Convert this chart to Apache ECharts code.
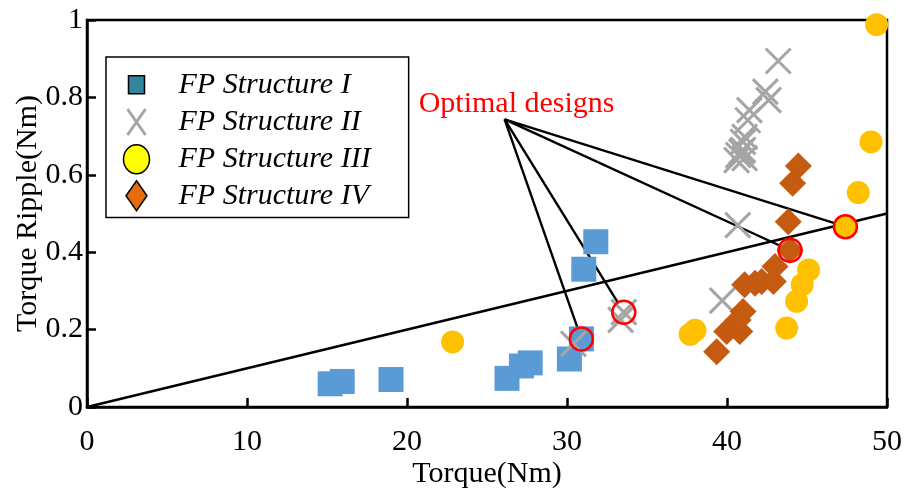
<!DOCTYPE html>
<html>
<head>
<meta charset="utf-8">
<script src="https://cdn.jsdelivr.net/npm/echarts@6/dist/echarts.min.js"></script>
<style>
  html, body { margin: 0; padding: 0; background: #ffffff; }
  #chart { width: 910px; height: 496px; }
</style>
</head>
<body>
<div id="chart"></div>
<script>
// Design points: [torque (Nm), torque ripple (Nm)]
const structureI = [
  [15.2, 0.060], [15.95, 0.066], [19.0, 0.071], [26.25, 0.074], [27.15, 0.106],
  [27.7, 0.114], [30.15, 0.124], [30.9, 0.176], [31.05, 0.356], [31.8, 0.427]
];
const structureII = [
  [30.4, 0.163], [33.55, 0.245], [33.35, 0.225], [39.7, 0.275], [40.67, 0.470],
  [40.6, 0.638], [40.7, 0.651], [40.9, 0.660], [41.1, 0.643], [41.0, 0.664],
  [41.0, 0.685], [41.1, 0.698], [41.3, 0.741], [41.4, 0.767], [42.4, 0.815],
  [42.6, 0.793], [43.2, 0.894]
];
const structureIII = [
  [22.85, 0.168], [37.7, 0.188], [38.0, 0.198], [43.73, 0.204], [44.35, 0.273],
  [44.7, 0.316], [45.1, 0.354], [47.4, 0.466], [48.2, 0.554], [49.0, 0.685],
  [49.35, 0.988]
];
const structureIV = [
  [39.35, 0.143], [39.98, 0.195], [40.8, 0.195], [40.7, 0.225], [41.0, 0.247],
  [41.1, 0.316], [41.75, 0.320], [42.17, 0.324], [42.9, 0.324], [43.0, 0.363],
  [43.94, 0.405], [43.83, 0.479], [44.1, 0.578], [44.46, 0.623]
];

// One chosen design per structure
const optimalDesigns = [structureI[7], structureII[1], structureIV[10], structureIII[7]];

// Ripple/torque ratio reference line y = 0.01 x
const ratioLine = [[0, 0], [50, 0.5]];

// Callout hub and its label
const calloutHub = [26.1, 0.743];
const calloutText = 'Optimal designs';

const seriesNames = ['FP Structure I', 'FP Structure II', 'FP Structure III', 'FP Structure IV'];

const xMin = 0, xMax = 50, xStep = 10;
const yMin = 0, yMax = 1, yStep = 0.2;

const FONT = "'Liberation Serif', 'Times New Roman', serif";

// Legend icons, drawn inside a 56 x 32 box (leading moves fix the box extent)
const BOX = 'M0,0M56,32';
const legendIcons = [
  { icon: 'path://' + BOX + 'M11,7L27,7L27,25L11,25Z',
    itemStyle: { color: '#31859C', borderColor: '#000', borderWidth: 1.5, opacity: 1 } },
  { icon: 'path://' + BOX + 'M10,3L28,29M28,3L10,29',
    itemStyle: { color: 'transparent', borderColor: '#A5A5A5', borderWidth: 3, opacity: 1 } },
  { icon: 'path://' + BOX + 'M6,16A13,14.5 0 1,1 32,16A13,14.5 0 1,1 6,16Z',
    itemStyle: { color: '#FFFF00', borderColor: '#000', borderWidth: 1.5, opacity: 1 } },
  { icon: 'path://' + BOX + 'M19,1L29.5,16L19,31L8.5,16Z',
    itemStyle: { color: '#E46C0A', borderColor: '#000', borderWidth: 1.5, opacity: 1 } }
];

const chart = echarts.init(document.getElementById('chart'), null, { renderer: 'canvas' });

const option = {
  animation: false,
  backgroundColor: '#ffffff',
  grid: {
    left: 87, right: 23, top: 20, bottom: 89,
    show: true, borderColor: '#000', borderWidth: 2.5
  },
  legend: {
    orient: 'vertical',
    left: 106, top: 57,
    padding: [11, 38, 5, 10],
    itemWidth: 56, itemHeight: 32, itemGap: 3,
    borderColor: '#000', borderWidth: 1.5,
    backgroundColor: '#ffffff',
    selectedMode: false,
    textStyle: { fontFamily: FONT, fontStyle: 'italic', fontSize: 30, color: '#000' },
    data: seriesNames.map((name, i) => Object.assign({ name }, legendIcons[i]))
  },
  xAxis: {
    type: 'value', min: xMin, max: xMax, interval: xStep,
    name: 'Torque(Nm)', nameLocation: 'middle', nameGap: 52,
    nameMoveOverlap: false,
    nameTextStyle: { fontFamily: FONT, fontSize: 30, color: '#000' },
    axisLine: { show: true, lineStyle: { color: '#000', width: 2.5 } },
    axisTick: { show: true, inside: true, length: 9, lineStyle: { color: '#000', width: 2.5 } },
    axisLabel: { fontFamily: FONT, fontSize: 30, color: '#000', margin: 20 },
    splitLine: { show: false }
  },
  yAxis: {
    type: 'value', min: yMin, max: yMax, interval: yStep,
    name: 'Torque Ripple(Nm)', nameLocation: 'middle', nameGap: 44,
    nameMoveOverlap: false,
    nameTextStyle: { fontFamily: FONT, fontSize: 30, color: '#000' },
    axisLine: { show: true, lineStyle: { color: '#000', width: 2.5 } },
    axisTick: { show: true, inside: true, length: 9, lineStyle: { color: '#000', width: 2.5 } },
    axisLabel: { fontFamily: FONT, fontSize: 30, color: '#000', margin: 4 },
    splitLine: { show: false }
  },
  series: [
    {
      name: 'ratio', type: 'line', data: ratioLine, z: 1,
      symbol: 'none', silent: true,
      lineStyle: { color: '#000', width: 2.5 }
    },
    {
      name: 'callout', type: 'custom', coordinateSystem: 'cartesian2d',
      data: optimalDesigns, z: 1, silent: true,
      encode: { x: 0, y: 1 },
      renderItem(params, api) {
        const hub = api.coord(calloutHub);
        const p = api.coord([api.value(0), api.value(1)]);
        const dx = p[0] - hub[0], dy = p[1] - hub[1];
        const len = Math.hypot(dx, dy);
        const r = 11.5;
        return {
          type: 'line',
          shape: { x1: hub[0], y1: hub[1], x2: p[0] - dx / len * r, y2: p[1] - dy / len * r },
          style: { stroke: '#000', lineWidth: 2.4 }
        };
      }
    },
    {
      name: seriesNames[0], type: 'scatter', data: structureI, z: 3,
      symbol: 'rect', symbolSize: 25,
      itemStyle: { color: '#5B9BD5', opacity: 1 }
    },
    {
      name: seriesNames[1], type: 'scatter', data: structureII, z: 4,
      symbol: 'path://M0,0L10,10M10,0L0,10', symbolSize: 25,
      itemStyle: { color: 'transparent', borderColor: '#A5A5A5', borderWidth: 3, opacity: 1 }
    },
    {
      name: seriesNames[2], type: 'scatter', data: structureIII, z: 5,
      symbol: 'circle', symbolSize: 23,
      itemStyle: { color: '#FFC000', opacity: 1 }
    },
    {
      name: seriesNames[3], type: 'scatter', data: structureIV, z: 6,
      symbol: 'diamond', symbolSize: 27,
      itemStyle: { color: '#C55A11', opacity: 1 }
    },
    {
      name: 'optimal', type: 'scatter', data: optimalDesigns, z: 7,
      symbol: 'circle', symbolSize: 23, silent: true,
      itemStyle: { color: 'transparent', borderColor: '#FF0000', borderWidth: 2.5, opacity: 1 }
    },
    {
      name: 'calloutLabel', type: 'scatter', data: [calloutHub], z: 7,
      symbolSize: 0, silent: true,
      itemStyle: { opacity: 1 },
      label: {
        show: true, position: 'top', distance: 0, offset: [12, 0],
        formatter: calloutText,
        fontFamily: FONT, fontSize: 30, color: '#FF0000'
      }
    }
  ]
};

chart.setOption(option);
</script>
</body>
</html>
